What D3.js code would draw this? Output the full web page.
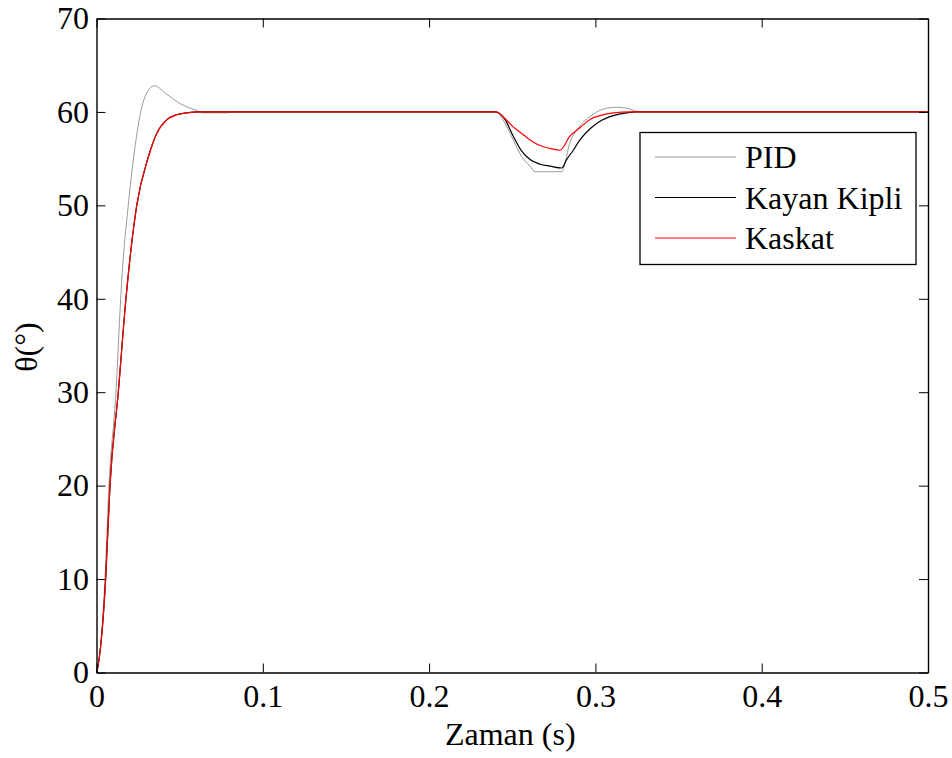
<!DOCTYPE html>
<html>
<head>
<meta charset="utf-8">
<script src="https://cdn.jsdelivr.net/npm/d3@7"></script>
<style>
  body { margin: 0; background: #fff; }
  text { font-family: "Liberation Serif", "Times New Roman", serif; }
</style>
</head>
<body>
<div id="chart"></div>
<script>
// tick values
const timeTicks = [0, 0.1, 0.2, 0.3, 0.4, 0.5];
const angleTicks = [0, 10, 20, 30, 40, 50, 60, 70];

// PID response
const pidTime = [0, 0.001, 0.0051, 0.0075, 0.0117, 0.01455, 0.0152, 0.0191, 0.0232, 0.0266, 0.0292, 0.0348, 0.0422, 0.0502, 0.0562, 0.0602, 0.064, 0.078, 0.082,
  0.24, 0.2456, 0.2506, 0.2557, 0.2607, 0.2637, 0.2797, 0.2847, 0.2907, 0.2968, 0.3047, 0.3128, 0.3188, 0.3268, 0.5];
const pidAngle = [0, 0.8, 10, 20, 30, 40, 42, 50, 56.3, 60, 61.65, 62.8, 61.9, 60.9, 60.4, 60.15, 59.9, 59.9, 60,
  60, 58.8, 57.0, 55.2, 54.2, 53.6, 53.6, 56.7, 58.5, 59.5, 60.3, 60.5, 60.4, 60, 60];

// Kayan Kipli (sliding mode) response
const smcTime = [0, 0.001, 0.0055, 0.0081, 0.0131, 0.0177, 0.0242, 0.0312, 0.0362, 0.0422, 0.0482, 0.0542, 0.062,
  0.24, 0.2456, 0.2506, 0.2557, 0.2607, 0.2667, 0.2727, 0.2797, 0.2827, 0.2867, 0.2907, 0.2968, 0.3028, 0.3108, 0.3188, 0.3248, 0.5];
const smcAngle = [0, 0.8, 10, 20, 30, 40, 50, 55.2, 57.7, 59.15, 59.7, 59.9, 60,
  60, 59.2, 57.4, 55.8, 54.9, 54.4, 54.2, 54.0, 54.9, 55.9, 57.0, 58.2, 59.0, 59.6, 59.9, 60, 60];

// Kaskat (cascade) response
const cascadeTime = [0, 0.001, 0.0055, 0.0081, 0.0131, 0.0177, 0.0242, 0.0312, 0.0362, 0.0422, 0.0482, 0.0542, 0.062,
  0.24, 0.2456, 0.2506, 0.2557, 0.2607, 0.2667, 0.2727, 0.2787, 0.2847, 0.2907, 0.2968, 0.3028, 0.3108, 0.3208, 0.3268, 0.5];
const cascadeAngle = [0, 0.8, 10, 20, 30, 40, 50, 55.2, 57.7, 59.15, 59.7, 59.9, 60,
  60, 59.3, 58.4, 57.7, 57.0, 56.4, 56.1, 55.9, 57.4, 58.3, 59.2, 59.6, 59.9, 60, 60, 60];

const seriesNames = ["PID", "Kayan Kipli", "Kaskat"];
const seriesColors = ["#9a9a9a", "#000000", "#ff0000"];

const series = [
  { name: seriesNames[0], color: seriesColors[0], width: 1, t: pidTime, v: pidAngle },
  { name: seriesNames[1], color: seriesColors[1], width: 1.2, t: smcTime, v: smcAngle },
  { name: seriesNames[2], color: seriesColors[2], width: 1.2, t: cascadeTime, v: cascadeAngle },
];

const dimension = {
  width: 952,
  height: 758,
  margin: { top: 18.5, right: 24, bottom: 85.5, left: 96.5 },
};
dimension.boundedWidth = dimension.width - dimension.margin.left - dimension.margin.right;
dimension.boundedHeight = dimension.height - dimension.margin.top - dimension.margin.bottom;

const xScale = d3.scaleLinear().domain([0, 0.5]).range([0, dimension.boundedWidth]);
const yScale = d3.scaleLinear().domain([0, 70]).range([dimension.boundedHeight, 0]);

const svg = d3.select("#chart").append("svg")
  .attr("width", dimension.width)
  .attr("height", dimension.height);

const bounds = svg.append("g")
  .attr("transform", `translate(${dimension.margin.left},${dimension.margin.top})`);

// LINES
const line = d3.line()
  .x(d => xScale(d[0]))
  .y(d => yScale(d[1]))
  .curve(d3.curveMonotoneX);

series.forEach(s => {
  const pts = s.t.map((t, i) => [t, s.v[i]]);
  bounds.append("path")
    .datum(pts)
    .attr("d", line)
    .attr("fill", "none")
    .attr("stroke", s.color)
    .attr("stroke-width", s.width);
});

// AXES (ticks pointing inward like matlab)
const tickLen = 9;
const fontSize = 32;

bounds.append("g")
  .attr("transform", `translate(0,${dimension.boundedHeight})`)
  .call(d3.axisBottom(xScale).tickValues(timeTicks).tickFormat(d => d).tickSizeInner(-tickLen).tickSizeOuter(0).tickPadding(12));
bounds.append("g")
  .call(d3.axisTop(xScale).tickValues(timeTicks).tickFormat("").tickSizeInner(-tickLen).tickSizeOuter(0));
bounds.append("g")
  .call(d3.axisLeft(yScale).tickValues(angleTicks).tickFormat(d => d).tickSizeInner(-tickLen).tickSizeOuter(0).tickPadding(7.5));
bounds.append("g")
  .attr("transform", `translate(${dimension.boundedWidth},0)`)
  .call(d3.axisRight(yScale).tickValues(angleTicks).tickFormat("").tickSizeInner(-tickLen).tickSizeOuter(0));

bounds.selectAll(".domain").attr("stroke", "#000").attr("stroke-width", 1.4);
bounds.selectAll(".tick line").attr("stroke", "#000").attr("stroke-width", 1);
bounds.selectAll(".tick text")
  .attr("font-family", '"Liberation Serif", "Times New Roman", serif')
  .attr("font-size", fontSize)
  .attr("fill", "#000");

// AXIS LABELS
svg.append("text")
  .attr("x", dimension.margin.left + dimension.boundedWidth / 2 - 2)
  .attr("y", 745)
  .attr("text-anchor", "middle")
  .attr("font-size", fontSize)
  .text("Zaman (s)");

svg.append("text")
  .attr("transform", "translate(37,347) rotate(-90)")
  .attr("text-anchor", "middle")
  .attr("font-size", fontSize)
  .text("θ(°)");

// LEGEND
const legend = svg.append("g").attr("transform", "translate(640,132.5)");
legend.append("rect")
  .attr("width", 276)
  .attr("height", 132)
  .attr("fill", "#fff")
  .attr("stroke", "#000")
  .attr("stroke-width", 1.3);

series.forEach((s, i) => {
  const rowY = 24.5 + i * 40.5;
  legend.append("line")
    .attr("x1", 15).attr("x2", 96)
    .attr("y1", rowY).attr("y2", rowY)
    .attr("stroke", s.color)
    .attr("stroke-width", 1);
  legend.append("text")
    .attr("x", 105)
    .attr("y", rowY + 11)
    .attr("font-size", fontSize)
    .text(s.name);
});
</script>
</body>
</html>
